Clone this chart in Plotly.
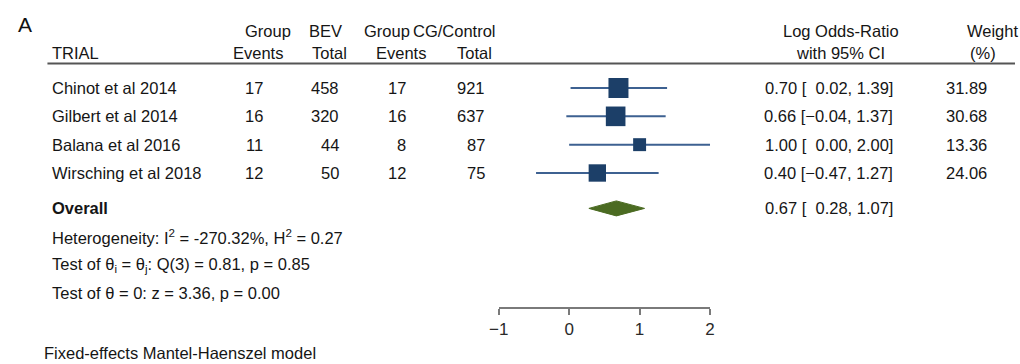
import plotly.graph_objects as go

# ---- study data ----
trials = ["Chinot et al 2014", "Gilbert et al 2014", "Balana et al 2016", "Wirsching et al 2018"]
bev_events = [17, 16, 11, 12]
bev_total = [458, 320, 44, 50]
cg_events = [17, 16, 8, 12]
cg_total = [921, 637, 87, 75]
log_or = [0.70, 0.66, 1.00, 0.40]
ci_low = [0.02, -0.04, 0.00, -0.47]
ci_high = [1.39, 1.37, 2.00, 1.27]
weights = [31.89, 30.68, 13.36, 24.06]

overall_est = 0.67
overall_low = 0.28
overall_high = 1.07

axis_ticks = [-1, 0, 1, 2]
axis_ticktext = ["\u22121", "0", "1", "2"]

# ---- layout helpers ----
W, H = 1020, 364
ROW0_PX, ROW_STEP = 88.0, 28.33          # pixel centre of first study row, row spacing
FONT = "Liberation Sans"
FS = 16.5
TXT = "#151515"
CI_COL = "#3d6191"
SQ_COL = "#1c3f68"
DIA_COL = "#4b6b22"

rows = list(range(len(trials)))
overall_row = 4.25
stat_rows = [5.25, 6.25, 7.25]
hdr1_row = (31 - ROW0_PX) / ROW_STEP
hdr2_row = (53 - ROW0_PX) / ROW_STEP
rule_row = (63.5 - ROW0_PX) / ROW_STEP
foot_row = (353 - ROW0_PX) / ROW_STEP


def px(x):
    return x / W


def fmt(v):
    # pad positive bounds with a digit-width space so brackets line up with negatives
    s = f"{abs(v):.2f}"
    return ("\u2212" + s) if v < 0 else ("\u2007" + s)


fig = go.Figure()

# confidence interval whiskers
for r, lo, hi in zip(rows, ci_low, ci_high):
    fig.add_trace(go.Scatter(
        x=[lo, hi], y=[r, r], mode="lines",
        line=dict(color=CI_COL, width=2), hoverinfo="skip", cliponaxis=False))

# weighted squares (area proportional to weight)
wmax = max(weights)
fig.add_trace(go.Scatter(
    x=log_or, y=rows, mode="markers",
    marker=dict(symbol="square", color=SQ_COL, opacity=1,
                size=[20 * (w / wmax) ** 0.5 for w in weights],
                line=dict(width=0)),
    hoverinfo="skip", cliponaxis=False))

# pooled estimate diamond
half_h = 7.5 / ROW_STEP
fig.add_trace(go.Scatter(
    x=[overall_low, overall_est, overall_high, overall_est, overall_low],
    y=[overall_row, overall_row - half_h, overall_row, overall_row + half_h, overall_row],
    mode="lines", fill="toself", fillcolor=DIA_COL,
    line=dict(color=DIA_COL, width=1), hoverinfo="skip", cliponaxis=False))

ann = []


def text(x, y, s, anchor="left", size=FS, color=TXT):
    ann.append(dict(x=px(x), y=y, xref="paper", yref="y", text=s, showarrow=False,
                    xanchor=anchor, yanchor="middle", align=anchor,
                    borderpad=0, font=dict(family=FONT, size=size, color=color)))


# panel letter
text(7, (24 - ROW0_PX) / ROW_STEP, "A", size=21, color="#111111")

# column headers
text(42, hdr2_row, "TRIAL")
text(237, hdr1_row, "Group")
text(302, hdr1_row, "BEV")
text(358, hdr1_row, "Group")
text(408, hdr1_row, "CG/Control")
text(278, hdr2_row, "Events", "right")
text(343, hdr2_row, "Total", "right")
text(423, hdr2_row, "Events", "right")
text(490, hdr2_row, "Total", "right")
text(843, hdr1_row, "Log Odds-Ratio", "center")
text(843, hdr2_row, "with 95% CI", "center")
text(970, hdr1_row, "Weight")
text(988, hdr2_row, "(%)", "center")

# study rows
for r, name, be, bt, ce, ct, est, lo, hi, w in zip(rows, trials, bev_events, bev_total, cg_events,
                                                   cg_total, log_or, ci_low, ci_high, weights):
    text(42, r, name)
    text(258, r, str(be), "right")
    text(335, r, str(bt), "right")
    text(403, r, str(ce), "right")
    text(483, r, str(ct), "right")
    text(897, r, f"{est:.2f} [{fmt(lo)}, {hi:.2f}]", "right")
    text(993, r, f"{w:.2f}", "right")

# pooled row and statistics
text(42, overall_row, "<b>Overall</b>")
text(897, overall_row, f"{overall_est:.2f} [{fmt(overall_low)}, {overall_high:.2f}]", "right")
text(42, stat_rows[0], "Heterogeneity: I<sup>2</sup> = -270.32%, H<sup>2</sup> = 0.27")
text(42, stat_rows[1], "Test of \u03b8<sub>i</sub> = \u03b8<sub>j</sub>: Q(3) = 0.81, p = 0.85")
text(42, stat_rows[2], "Test of \u03b8 = 0: z = 3.36, p = 0.00")
text(33, foot_row, "Fixed-effects Mantel-Haenszel model")

fig.update_layout(
    width=W, height=H, margin=dict(l=0, r=0, t=0, b=0),
    paper_bgcolor="white", plot_bgcolor="white", showlegend=False,
    annotations=ann,
    shapes=[dict(type="line", xref="paper", yref="y", x0=px(38), x1=px(1020),
                 y0=rule_row, y1=rule_row, line=dict(color="#555555", width=2))],
    xaxis=dict(domain=[px(496), px(710.5)], range=[-1, 2], anchor="free",
               position=1 - 308 / H, showline=True, linecolor="#7a7a7a", linewidth=2,
               ticks="outside", ticklen=6, tickwidth=2, tickcolor="#7a7a7a",
               tickvals=axis_ticks, ticktext=axis_ticktext, showgrid=False, zeroline=False,
               tickfont=dict(family=FONT, size=17, color="#2a2a2a")),
    yaxis=dict(domain=[0, 1], range=[(H - ROW0_PX) / ROW_STEP, -ROW0_PX / ROW_STEP],
               visible=False, showgrid=False, zeroline=False),
)

fig.write_html("out.html")
